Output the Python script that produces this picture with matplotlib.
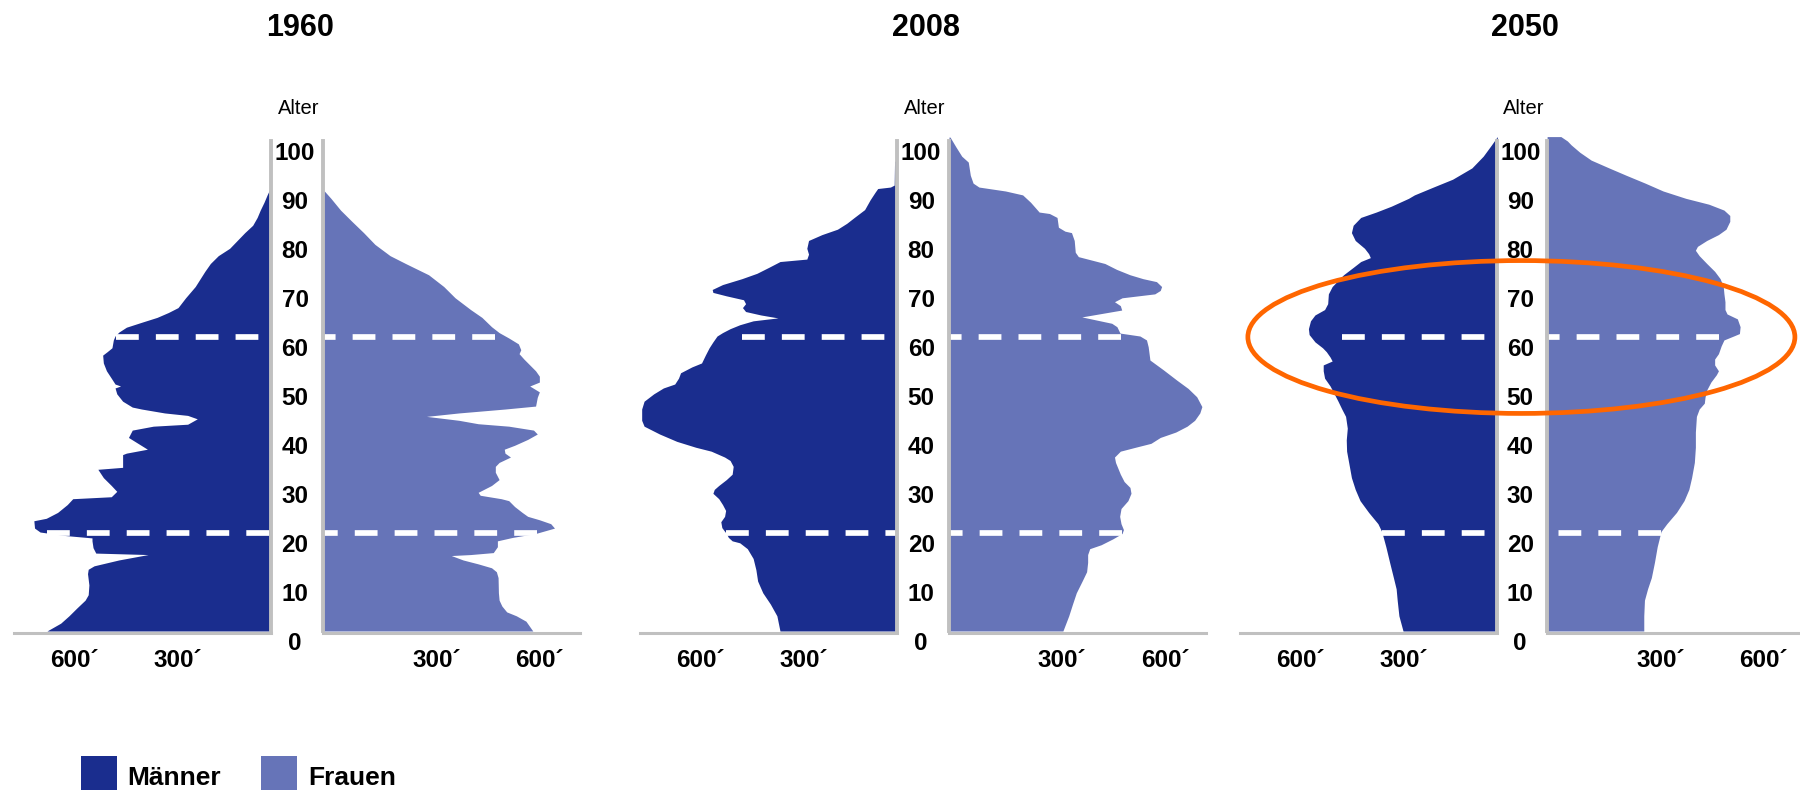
import numpy as np
import matplotlib
matplotlib.use("Agg")
import matplotlib.pyplot as plt
from matplotlib import transforms as mtransforms
from matplotlib.patches import Ellipse, Rectangle

plt.rcParams['font.family'] = ['Liberation Sans', 'DejaVu Sans']

# ---------------------------------------------------------------
# Population by single year of age, in thousands
# ---------------------------------------------------------------
YEARS = ["1960", "2008", "2050"]
AGE_TICKS = list(range(0, 101, 10))
X_TICKS = [300, 600]
X_TICK_LABELS = ["300´", "600´"]
MARK_AGES = [20, 60]
HIGHLIGHT_AGE = 60
LEGEND_LABELS = ["Männer", "Frauen"]

AGE_M_1960 = [0, 1.6, 3.1, 4.7, 6.3, 7.4, 9.4, 11.7, 12.6, 13.3, 14.5, 15.6, 15.9,
              17, 18.4, 19, 19.5, 20.2, 21, 22.5, 23, 24.2, 25.8, 27, 27.4, 28.5,
              29.7, 31.3, 33, 33.4, 36, 36.3, 37.1, 39.5, 41, 41.8, 42.2, 43.3, 44,
              44.5, 45.3, 45.7, 46.9, 48.4, 49.6, 50, 50.4, 51.6, 53.1, 54.7, 56.3,
              57, 57.8, 59.4, 60.2, 61, 62, 63, 64, 65, 66, 68, 70.3, 73.4, 75, 76.6,
              78.1, 81.3, 82.8, 84.4, 85.9, 87.5, 89, 90.2]
MEN_1960 = [651, 611, 587, 564, 540, 531, 529, 533, 531, 514, 442, 357, 509,
            517, 520, 520, 600, 671, 687, 689, 653, 620, 592, 576, 464, 448,
            464, 487, 503, 431, 431, 420, 359, 414, 403, 342, 242, 214, 242,
            309, 376, 403, 431, 448, 453, 437, 453, 464, 478, 487, 489,
            476, 462, 458, 453, 442, 420, 376, 331, 298, 270, 248, 220, 192, 176, 153,
            120, 76, 53, 40, 31, 20, 11, 3]

AGE_F_1960 = [0, 2, 3.1, 3.9, 5.1, 6.3, 7.8, 10.9, 12.1, 12.9, 13.7, 14.5, 15.4,
              15.6, 16, 17.2, 18.4, 19.1, 19.9, 21, 21.9, 22.7, 23.4, 24.2, 25.4,
              26.6, 27, 27.7, 28.3, 29.7, 30.9, 32.4, 33.6, 34.4, 35.5, 36.3, 37.1,
              37.9, 39.1, 40.2, 41, 41.8, 42.3, 43, 43.8, 44.5, 45.3, 45.9, 47.7,
              48.8, 50, 50.8, 52, 53.1, 54.3, 55.5, 56.6, 57.4, 58.6, 59.8, 60.9,
              62.1, 64, 65.6, 68, 70.3, 72.7, 75, 76.6, 78.9, 81.3, 83.6, 85.9,
              88.3, 89.8]
WOMEN_1960 = [609, 589, 561, 533, 519, 511, 509, 508, 503, 489, 450, 406, 372,
              428, 494, 506, 506, 550, 617, 672, 661, 628, 594, 578, 556,
              539, 517, 456, 450, 489, 511, 500, 500, 511, 544, 528, 526,
              556, 594, 622, 611, 539, 450, 394, 300, 394, 528, 617, 622,
              628, 600, 628, 628, 617, 600, 583, 569, 574, 567, 539, 511,
              489, 461, 428, 383, 350, 306, 239, 194, 150, 117, 83, 50,
              22, 3]

AGE_M_2008 = [0, 3.1, 5.5, 7.8, 10.2, 12.5, 14.8, 16.8, 18, 18.4, 19.1, 19.9, 21.1,
              22.3, 23.4, 24.6, 25.8, 27, 28.1, 28.9, 29.7, 30.9, 32, 33.6, 34.8,
              35.5, 36.7, 37.5, 38.7, 40.2, 41.8, 43, 45.3, 46.9, 48.4, 49.6, 50.4,
              51.6, 52.7, 53.9, 54.7, 56.3, 57.8, 59, 60.2, 60.9, 61.7, 62.5, 63.3,
              63.9, 64.5, 65.2, 66, 66.8, 67.6, 68.4, 69.1, 69.7, 70.7, 71.9, 73,
              74.2, 75.4, 75.9, 76.9, 78.1, 79.7, 80.9, 82, 83.2, 84.4, 86, 88,
              89.5, 90.3, 90.6, 91, 95.8, 96.2]
MEN_2008 = [341, 350, 369, 391, 406, 411, 419, 436, 458, 480, 491, 497, 510,
            513, 502, 499, 508, 519, 536, 532, 519, 497, 480, 477, 486,
            502, 541, 586, 641, 691, 736, 743, 743, 736, 708, 680, 647,
            636, 630, 597, 569, 558, 547, 536, 524, 508, 486, 458, 419,
            347, 397, 441, 450, 441, 447, 497, 536, 538, 508, 452, 408,
            374, 341, 263, 258, 263, 258, 219, 174, 147, 125, 95, 79,
            65, 57, 20, 9, 8, 0]

AGE_F_2008 = [0, 3.1, 5.5, 7.8, 10.2, 12.1, 14, 15.6, 16.8, 17.6, 18.8, 19.9, 20.7,
              21.9, 23.4, 25, 26.6, 28.1, 29.3, 30.5, 32, 34.4, 35.5, 36.7, 37.5,
              38.3, 39.5, 40.6, 41.8, 43, 44.5, 45.8, 47.8, 49.5, 51.2, 53.3, 55.3,
              58, 59.4, 60.2, 60.8, 62.1, 62.8, 64.1, 65.5, 66.4, 67.2, 68, 68.8,
              69.5, 70.3, 71.3, 71.9, 72.7, 73.8, 75, 75.8, 76.4, 77.3, 79.7, 81.3,
              81.6, 82.4, 84.4, 85.2, 85.5, 87.5, 89, 89.8, 90.6, 91.4, 93, 95.7,
              96.9, 98.8, 100.8]
WOMEN_2008 = [331, 348, 359, 370, 387, 400, 403, 403, 409, 442, 476, 503, 507,
              500, 496, 500, 520, 529, 526, 509, 498, 484, 481, 498, 542,
              587, 614, 659, 692, 714, 729, 735, 720, 695, 662, 623, 584,
              579, 574, 555, 497, 488, 473, 386, 502, 498, 481, 503, 598,
              614, 618, 603, 564, 526, 487, 453, 409, 376, 367, 364, 356,
              337, 318, 314, 292, 262, 237, 214, 164, 87, 70, 62, 56,
              37, 20, 3]

AGE_M_2050 = [0, 3.1, 6.3, 8.6, 10.9, 14, 17.2, 20.3, 21.9, 24.2, 26.6, 28.9, 31.3,
              34.4, 36.7, 39, 41.4, 43.8, 45.3, 46.9, 48.4, 50, 51.6, 53.1, 54.3,
              55.1, 55.9, 57, 57.8, 59, 59.8, 60.5, 61.7, 63.3, 64.5, 65.6, 66.8,
              68.8, 70.3, 72.7, 74.2, 75.4, 76.2, 77, 78.1, 79.7, 81.3, 82.8, 84.4,
              85.5, 86.7, 88.3, 89, 90.6, 92.2, 94.5, 96.9, 99.2, 100.9]
MEN_2050 = [274, 286, 291, 294, 302, 313, 324, 336, 347, 374, 399, 413, 424,
            432, 438, 439, 436, 441, 452, 463, 474, 486, 502, 506, 506,
            480, 486, 497, 508, 530, 539, 547, 549, 543, 530, 502, 493,
            491, 480, 447, 419, 397, 369, 374, 386, 413, 424, 419, 397,
            352, 308, 258, 241, 186, 130, 74, 41, 17, 0]

AGE_F_2050 = [0, 3.1, 6.3, 8.6, 10.9, 14, 17.2, 20.3, 21.9, 24.2, 26.6, 28.9, 31.3,
              34.4, 37.5, 40.6, 43.8, 45.3, 46.5, 47.7, 49.2, 50.8, 52.3, 53.1,
              54.3, 55.5, 56.6, 58.2, 59.4, 60.2, 60.7, 62.1, 63.7, 64.7, 65.6,
              67.2, 68.8, 70.3, 71.9, 73.4, 75, 76.6, 77.7, 78.5, 79.7, 80.9, 82,
              83.6, 84.8, 85.9, 87.1, 88.3, 89.8, 91.4, 93, 94.5, 96.1, 97.7, 99.2,
              100, 100.9]
WOMEN_2050 = [281, 281, 283, 292, 303, 312, 320, 331, 348, 376, 398, 412, 420,
              428, 431, 431, 434, 442, 457, 459, 464, 476, 492, 498,
              487, 487, 498, 506, 514, 542, 559, 561, 553, 523, 517,
              517, 514, 512, 503, 487, 464, 442, 431, 437, 464, 498, 520,
              531, 531, 514, 470, 403, 337, 285, 230, 180, 128, 95, 70,
              59, 40]

PANELS = [
    (AGE_M_1960, MEN_1960, AGE_F_1960, WOMEN_1960),
    (AGE_M_2008, MEN_2008, AGE_F_2008, WOMEN_2008),
    (AGE_M_2050, MEN_2050, AGE_F_2050, WOMEN_2050),
]

# ---------------------------------------------------------------
# Style
# ---------------------------------------------------------------
MEN_BLUE = "#1A2D8E"
WOMEN_BLUE = "#6674B8"
AXIS_GRAY = "#C0C0C0"
RING_ORANGE = "#FF6600"

DPI = 100
W_PX, H_PX = 1800, 790

AXIS_X = [270.9, 897.3, 1497.3]     # centre spine of each pyramid (left half)
GAP = [52.4, 51.7, 49.8]            # width of the age-label column
HALF_W = 257                        # width of one half in pixels
BASE_Y = 631                        # pixel row of age 0
PX_PER_YEAR = 4.9
XMAX = 747
YMIN, YMAX = -0.35, 103
# dashed marker lines: men's / women's reach at each marked age (None = edge)
MARK_REACH = {20: (None, None), 60: (450, 500)}


def fx(px):
    return px / W_PX


def fy(py):
    return 1 - py / H_PX


fig = plt.figure(figsize=(W_PX / DPI, H_PX / DPI), dpi=DPI)

ax_bottom = fy(BASE_Y - YMIN * PX_PER_YEAR)
ax_height = (YMAX - YMIN) * PX_PER_YEAR / H_PX

tick_shift = mtransforms.ScaledTranslation(10 / DPI, 0, fig.dpi_scale_trans)
label_drop = mtransforms.ScaledTranslation(-2 / DPI, -12.5 / DPI, fig.dpi_scale_trans)

left_axes = []
for i, (year, (age_m, men, age_f, women)) in enumerate(zip(YEARS, PANELS)):
    axL = fig.add_axes([fx(AXIS_X[i] - HALF_W), ax_bottom, HALF_W / W_PX, ax_height])
    axR = fig.add_axes([fx(AXIS_X[i] + GAP[i]), ax_bottom, HALF_W / W_PX, ax_height])
    left_axes.append(axL)

    axL.set_xlim(XMAX, 0)
    axR.set_xlim(0, XMAX)

    axL.fill_betweenx(age_m, 0, men, color=MEN_BLUE, lw=0, zorder=1)
    axR.fill_betweenx(age_f, 0, women, color=WOMEN_BLUE, lw=0, zorder=1)

    # white dashed marker lines, drawn from the outer end toward the spine
    for age in MARK_AGES:
        cap_m, cap_f = MARK_REACH[age]
        reach_m = np.interp(age, age_m, men) if cap_m is None else cap_m
        reach_f = np.interp(age, age_f, women) if cap_f is None else cap_f
        for ax, reach in ((axL, reach_m), (axR, reach_f)):
            ax.plot([reach, 0], [age, age], color="white", lw=4.1,
                    linestyle=(0, (4.0, 3.0)), dash_capstyle="butt", zorder=2)

    for ax, inner in ((axL, "right"), (axR, "left")):
        ax.set_ylim(YMIN, YMAX)
        ax.set_facecolor("none")
        outer = "left" if inner == "right" else "right"
        ax.spines["top"].set_visible(False)
        ax.spines[outer].set_visible(False)
        ax.spines[inner].set_bounds(0, 100)
        ax.spines[inner].set_color(AXIS_GRAY)
        ax.spines[inner].set_linewidth(2.8)
        ax.spines["bottom"].set_color(AXIS_GRAY)
        ax.spines["bottom"].set_linewidth(2.2)
        ax.set_yticks([])
        ax.set_xticks(X_TICKS)
        ax.set_xticklabels(X_TICK_LABELS, fontsize=17.5, fontweight="bold")
        ax.tick_params(axis="x", length=0, pad=11.5)
        for lab in ax.get_xticklabels():
            lab.set_transform(lab.get_transform() + tick_shift)

    # age labels in the column between the halves
    col_x = 1 + (GAP[i] / 2) / HALF_W
    trans = mtransforms.blended_transform_factory(axL.transAxes, axL.transData) + label_drop
    for age in AGE_TICKS:
        axL.text(col_x, age, str(age), transform=trans, ha="center", va="center",
                 fontsize=17.5, fontweight="bold", clip_on=False)

    centre = AXIS_X[i] + GAP[i] / 2
    fig.text(fx(centre + 3), fy(28), year, ha="center", va="center",
             fontsize=22, fontweight="bold")
    fig.text(fx(centre + 2), fy(108), "Alter", ha="center", va="center",
             fontsize=14.5)

# orange ring around the baby-boomer ages in the last pyramid
ring_ax = left_axes[-1]
fig.add_artist(Ellipse((-70, HIGHLIGHT_AGE), width=1590, height=31.2,
                       transform=ring_ax.transData, fill=False,
                       edgecolor=RING_ORANGE, lw=3.4, zorder=10))

# legend
for colour, label, sq_x, txt_x in ((MEN_BLUE, LEGEND_LABELS[0], 81, 127),
                                   (WOMEN_BLUE, LEGEND_LABELS[1], 261, 308)):
    fig.add_artist(Rectangle((fx(sq_x), 0), 35.5 / W_PX, 34 / H_PX,
                             transform=fig.transFigure, facecolor=colour,
                             edgecolor="none"))
    fig.text(fx(txt_x), fy(785), label, ha="left", va="baseline",
             fontsize=19, fontweight="bold")

fig.savefig("out.png", dpi=DPI)
